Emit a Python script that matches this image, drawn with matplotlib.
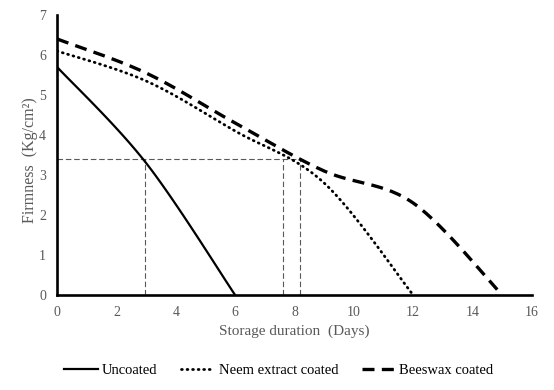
import matplotlib
matplotlib.use("Agg")
import matplotlib.pyplot as plt
import numpy as np

uncoated_days = [0, 3, 6]
uncoated_firm = [5.7, 3.3, 0.0]
neem_days = [0, 3, 6, 9, 12]
neem_firm = [6.1, 5.35, 4.1, 2.8, 0.0]
bees_days = [0, 3, 6, 9, 12, 15]
bees_firm = [6.4, 5.55, 4.3, 3.1, 2.3, 0.0]

ref_level = 3.4
ref_days = [2.95, 7.6, 8.2]


def smooth(x, y, n=30):
    # excel style smoothed line (catmull-rom bezier segments)
    x = np.asarray(x, float)
    y = np.asarray(y, float)
    px = np.concatenate([[x[0]], x, [x[-1]]])
    py = np.concatenate([[y[0]], y, [y[-1]]])
    xs, ys = [], []
    t = np.linspace(0, 1, n)
    for i in range(1, len(px) - 2):
        p0 = np.array([px[i], py[i]])
        p3 = np.array([px[i + 1], py[i + 1]])
        c1 = p0 + (np.array([px[i + 1], py[i + 1]]) - np.array([px[i - 1], py[i - 1]])) / 6
        c2 = p3 - (np.array([px[i + 2], py[i + 2]]) - np.array([px[i], py[i]])) / 6
        b = ((1 - t) ** 3)[:, None] * p0 + (3 * (1 - t) ** 2 * t)[:, None] * c1 \
            + (3 * (1 - t) * t ** 2)[:, None] * c2 + (t ** 3)[:, None] * p3
        xs.extend(b[:, 0])
        ys.extend(b[:, 1])
    return xs, ys


plt.rcParams['font.family'] = ['Liberation Serif', 'DejaVu Serif']

fig = plt.figure(figsize=(5.54, 3.9), dpi=100)
ax = fig.add_axes([0.103, 0.2436, 0.857, 0.718])

gray = '#595959'
ax.hlines(ref_level, 0, max(ref_days), colors=gray, linestyles=(0, (5, 2.5)), lw=0.8)
ax.vlines(ref_days, 0, ref_level, colors=gray, linestyles=(0, (5, 2.5)), lw=0.8)

sx, sy = smooth(uncoated_days, uncoated_firm)
ax.plot(sx, sy, color='black', lw=1.6, label='Uncoated')
sx, sy = smooth(neem_days, neem_firm)
ax.plot(sx, sy, color='black', lw=2.0, linestyle=(0, (0.3, 1.7)),
        dash_capstyle='round', label='Neem extract coated')
sx, sy = smooth(bees_days, bees_firm)
ax.plot(sx, sy, color='black', lw=2.4, linestyle=(0, (3.6, 2.2)),
        label='Beeswax coated')

ax.set_xlim(0, 16)
ax.set_ylim(0, 7)
ax.set_xticks(range(0, 17, 2))
ax.set_yticks(range(0, 8))
ax.tick_params(length=0, labelsize=10, labelcolor=gray, pad=8)
for s in ['top', 'right']:
    ax.spines[s].set_visible(False)
for s in ['left', 'bottom']:
    ax.spines[s].set_linewidth(1.9)
    ax.spines[s].set_color('black')

ax.set_xlabel('Storage duration  (Days)', fontsize=11, color=gray, labelpad=4)
ax.set_ylabel('Firmness  (Kg/cm²)', fontsize=11.5, color=gray, labelpad=2)
ax.yaxis.set_label_coords(-0.041, 0.482)

ax.legend(loc='center', bbox_to_anchor=(0.467, -0.268), ncol=3, frameon=False,
          fontsize=10.5, handlelength=2.3, columnspacing=1.6, handletextpad=0.3)

fig.savefig('out.png', dpi=100)
